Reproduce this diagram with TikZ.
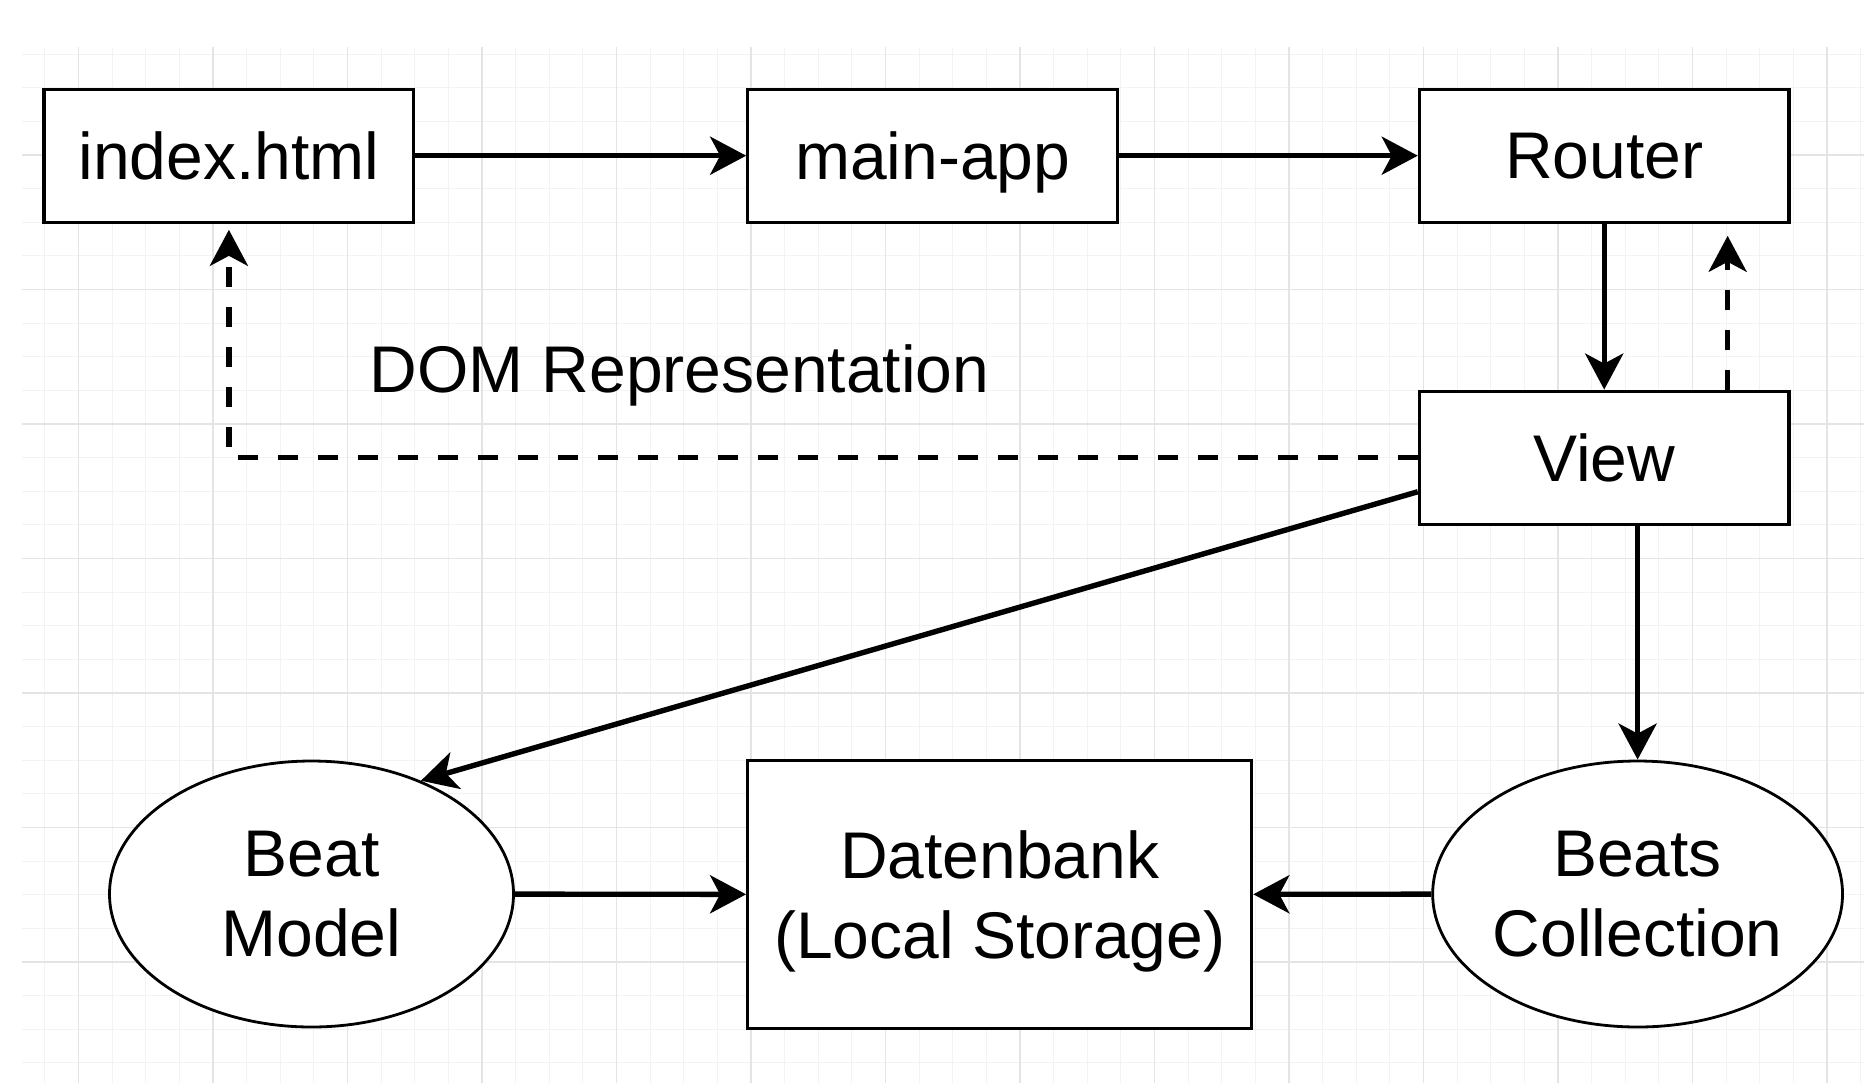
\documentclass[tikz,border=0pt]{standalone}
\usepackage{fontspec}
\setmainfont{Liberation Sans}
\usetikzlibrary{arrows.meta,shapes.geometric,calc}
\definecolor{gridmajor}{HTML}{E4E4E4}
\definecolor{gridminor}{HTML}{F3F3F3}

\begin{document}
\begin{tikzpicture}[x=0.5pt,y=-0.5pt,
    box/.style={draw, line width=1.6pt, fill=white, minimum width=184.85pt, minimum height=66.5pt,
      inner sep=0pt, align=center, text depth=0pt, font=\fontsize{33}{40}\selectfont},
    blob/.style={ellipse, draw, line width=1.4pt, fill=white, minimum width=202pt, minimum height=133pt,
      inner sep=0pt, align=center, text depth=0pt, font=\fontsize{33}{40}\selectfont},
    arr/.style={line width=2.7pt, -{Stealth[length=18pt,width=19pt,inset=5pt]}},
    dasharr/.style={arr, dash pattern=on 10pt off 10pt}]
  \useasboundingbox (0,0) rectangle (1864,1083);
  \fill[white] (0,0) rectangle (1864,1083);

  % Grid
  \foreach \i in {0,...,54} \draw[gridminor, line width=0.5pt] (44.9+33.625*\i,47) -- (44.9+33.625*\i,1083);
  \foreach \j in {0,...,30} \draw[gridminor, line width=0.5pt] (22,54.1+33.625*\j) -- (1864,54.1+33.625*\j);
  \foreach \i in {0,...,13} \draw[gridmajor, line width=0.9pt] (78.5+134.5*\i,47) -- (78.5+134.5*\i,1083);
  \foreach \j in {0,...,6} \draw[gridmajor, line width=0.9pt] (22,155+134.5*\j) -- (1864,155+134.5*\j);

  % Boxes
  \node[box] (index) at (228.9,155.7) {index.html};
  \node[box] (main) at (932.6,155.7) {main-app};
  \node[box] (router) at (1604.2,155.7) {Router};
  \node[box] (view) at (1604.2,457.7) {View};
  \node[blob] (model) at (311.5,894) {Beat\\Model};
  \node[box, minimum width=252pt, minimum height=133.75pt] (db) at (999.7,894.5) {Datenbank\\(Local Storage)};
  \node[blob] (coll) at (1637.6,894) {Beats\\Collection};
  \node[anchor=base west, inner sep=0pt, font=\fontsize{33}{40}\selectfont] (dom) at (369,392) {DOM Representation};

  % Arrows
  \draw[arr] (index) -- (main);
  \draw[arr] (main) -- (router);
  \draw[arr] (router) -- (view);
  \draw[dasharr] ([xshift=-31.5pt]view.north east) -- ([xshift=-31.5pt,yshift=-6pt]router.south east);
  \draw[dasharr] (view.west) -| ([yshift=-3pt]index.south);
  \coordinate (vout) at ($(view.west)!0.5!(view.south west)$);
  \draw[arr] (vout) -- (model.46);
  \draw[arr] (view.south -| coll.north) -- (coll.north);
  \draw[arr] (model) -- (db);
  \draw[arr] (coll) -- (db);
\end{tikzpicture}
\end{document}
